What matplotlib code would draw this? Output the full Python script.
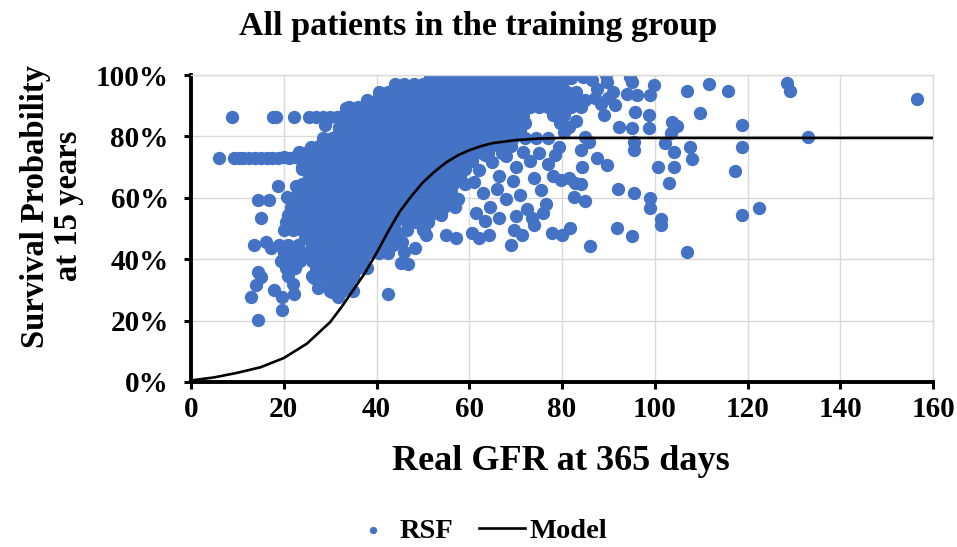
import matplotlib
matplotlib.use("Agg")
import matplotlib.pyplot as plt
from matplotlib.ticker import PercentFormatter, MultipleLocator

plt.rcParams['font.family'] = ['Liberation Serif', 'DejaVu Serif']
plt.rcParams['font.weight'] = 'bold'

# Model curve (GFR, survival %)
model_gfr = [0, 5, 10, 15, 20, 25, 30, 32.5, 35, 37.5, 40, 42.5, 45, 47.5, 50,
             52.5, 55, 57.5, 60, 62.5, 65, 70, 75, 80, 100, 120, 140, 160]
model_surv = [0.5, 1.5, 3, 4.8, 7.8, 12.5, 19.5, 24.5, 30, 35.5, 42, 49, 55.5, 60.5, 65,
              68.5, 71.5, 73.8, 75.5, 76.8, 77.8, 78.8, 79.3, 79.5, 79.5, 79.5, 79.5, 79.5]

# RSF points, dense core: one survival level per row, GFR values along it
core_surv = [99.5, 97, 94.5, 92, 89.5, 87, 84.5, 82, 79.5, 77, 74.5, 72, 69.5, 67,
             64.5, 62, 59.5, 57, 54.5, 52, 49.5, 47, 44.5, 42, 39.5, 37, 34.5, 32, 29.5]
core_gfr_rows = [
    [51.5, 53.5, 55.5, 57.5, 59.5, 62, 64, 66, 68.5, 70.5, 72.5, 75, 77.5],
    [44, 46, 48, 50, 52.5, 54.5, 56.5, 58.5, 61, 63, 65, 67, 69.5, 71.5, 73.5, 76, 78, 80],
    [40.5, 42.5, 44.5, 47, 49, 51, 53, 55.5, 57.5, 59.5, 62, 64, 66, 68, 70.5, 72.5, 74.5,
     77, 79, 81, 83],
    [38, 40, 42, 44, 46, 48, 50.5, 52.5, 54.5, 56.5, 59, 61, 63, 65, 67.5, 69.5, 71.5, 74,
     76, 78, 80.5, 82.5, 85],
    [34, 36, 38.5, 40.5, 42.5, 45, 47, 49, 51, 53.5, 55.5, 57.5, 60, 62, 64, 66.5, 68.5,
     70.5, 73, 75, 77, 79.5, 82, 84],
    [33, 35, 37, 39, 41.5, 43.5, 45.5, 48, 50, 52, 54.5, 56.5, 58.5, 61, 63, 65, 67.5,
     69.5, 71.5, 78, 80.5],
    [33.5, 35.5, 38, 40, 42, 44, 46.5, 48.5, 50.5, 53, 55, 57, 59.5, 61.5, 63.5, 66, 68,
     70, 72, 79.5],
    [32, 34, 36.5, 38.5, 40.5, 43, 45, 47, 49.5, 51.5, 53.5, 56, 58, 60, 62.5, 64.5, 66.5,
     69, 71],
    [28.5, 30.5, 32.5, 35, 37, 39, 41.5, 43.5, 45.5, 48, 50, 52, 54.5, 56.5, 58.5, 61, 63,
     65, 67.5, 69.5, 72, 74.5, 77],
    [27.5, 29.5, 31.5, 34, 36, 38, 40.5, 42.5, 44.5, 47, 49, 51, 53.5, 55.5, 57.5, 60, 62,
     64.5, 66.5, 69],
    [24.5, 26.5, 28.5, 31, 33, 35, 37.5, 39.5, 41.5, 44, 46, 48, 50.5, 52.5, 54.5, 57, 59,
     61.5, 64, 67],
    [25, 27, 29.5, 31.5, 33.5, 36, 38, 40, 42.5, 44.5, 46.5, 49, 51, 53, 55.5, 57.5, 60],
    [24, 26, 28, 30.5, 32.5, 34.5, 37, 39, 41, 43.5, 45.5, 47.5, 50, 52, 54, 56.5, 59],
    [25.5, 27.5, 29.5, 32, 34, 36, 38.5, 40.5, 42.5, 45, 47, 49, 51.5, 53.5, 55.5, 58],
    [24, 26, 28.5, 30.5, 32.5, 35, 37, 39, 41.5, 43.5, 45.5, 48, 50, 52, 54.5, 56.5, 59],
    [23, 25.5, 27.5, 29.5, 32, 34, 36, 38.5, 40.5, 42.5, 45, 47, 49, 51.5, 53.5, 56],
    [22.5, 24.5, 26.5, 29, 31, 33, 35.5, 37.5, 39.5, 42, 44, 46, 48.5, 50.5, 53, 55, 57.5],
    [21.5, 23.5, 26, 28, 30, 32.5, 34.5, 36.5, 39, 41, 43, 45.5, 47.5, 49.5, 52, 54.5, 57],
    [21, 23, 25, 27.5, 29.5, 31.5, 34, 36, 38, 40.5, 42.5, 44.5, 47, 49, 51.5, 54],
    [20.5, 22.5, 24.5, 27, 29, 31, 33.5, 35.5, 37.5, 40, 42, 44, 46.5, 48.5, 51],
    [20, 22, 24, 26.5, 28.5, 30.5, 33, 35, 37, 39.5, 41.5, 44, 46.5, 50],
    [24.5, 27, 29, 31, 33.5, 35.5, 37.5, 40, 42, 44.5],
    [19, 21, 23, 26, 28, 30, 32.5, 34.5, 36.5, 39, 41.5, 43.5],
    [20, 22, 24.5, 27, 29, 31, 33.5, 35.5, 38, 40.5, 42.5],
    [19.5, 21.5, 23.5, 26, 28, 30.5, 32.5, 34.5, 37],
    [20.5, 22.5, 27, 29.5, 31.5, 33.5, 36, 38],
    [21, 26, 28.5, 30.5, 32.5, 35],
    [22, 29.5, 31.5, 34],
    [30, 32.5, 35],
]

# RSF points, scattered ones around the edges
edge_gfr = [8.8, 17.7, 18.4, 22.3, 25.5, 27, 28.5, 30, 31.5, 29, 32, 33.4, 38.3, 25.8, 28.4,
            23.3, 24,
            6.1, 9.3, 10.3, 11.3, 12.5, 13.8, 15, 16.3, 17.5, 18.8, 20, 21.2, 22.5,
            18.7, 22.6, 14.4, 16.9, 15.1, 20.8,
            13.6, 16.1, 17.2, 14.4, 15.1, 14, 12.9, 14.4, 17.9, 19.7, 19.7, 22.2, 26.5, 27.3,
            30.5, 31.6,
            42.4, 45.2, 46.7, 45.9, 48.4, 45.6, 41.6, 42, 50.2, 50.6, 54.9, 57.1, 60.7, 62.1,
            64.2, 68.9, 69.6, 71.4, 73.9, 77.9,
            80, 81.8, 86.1, 91.9, 95, 101.4, 107,
            60.5, 62, 63.5, 65, 66.5, 68, 70, 71.5, 73, 75, 77, 61, 63, 64.5, 66, 68, 69.5, 71,
            72.5, 74, 75.5, 76.5, 78, 78.5, 61.5, 63.5, 66.5, 70, 73.5, 76,
            79.3, 84, 85.8, 85, 84.3, 87.6, 89.7, 79.7, 81.5, 82.9, 84, 85, 82.5,
            80, 81.5, 83, 80.5,
            107, 111.6, 115.9, 109.8, 118.8, 107.7, 108, 104.1, 103.7, 104.8, 103.4, 102.3,
            100.8, 104.1, 103, 117.4, 118.8, 118.8, 101.4, 99, 99, 95.6, 92, 122.4, 128.5,
            129.2, 156.5, 133.1,
            95.6, 95.6, 95.1, 95.8, 92.2, 98.7, 98.7, 94, 96.2, 99, 99.8, 94.7, 95.1, 89.4,
            89.7, 86.5, 87.6, 87.2, 90, 91.5, 89, 80, 82, 84.5, 88.5, 91]
edge_surv = [86.4, 86.4, 86.4, 86.4, 86.4, 86.4, 86.4, 86.4, 86.4, 83.7, 83, 89.2, 91, 76.7,
             77.2, 75, 70.1,
             72.9, 73, 73, 72.9, 73, 72.9, 73, 73, 72.9, 73, 73.2, 73, 73.3,
             64, 64, 59.3, 59.3, 53.3, 60.4,
             44.6, 45.7, 43.5, 35.9, 34.3, 31.6, 27.8, 20.2, 30, 27.8, 23.5, 28.6, 34, 30.6,
             29.4, 27.8,
             28.6, 38.7, 38.3, 42.4, 43.5, 45.7, 43, 45.2, 49.5, 47.9, 47.9, 46.8, 48.4, 46.8,
             47.9, 44.6, 49.5, 47.9, 51.1, 48.4,
             47.9, 50.3, 44.4, 50.3, 47.7, 51, 42.2,
             72, 69, 74, 71.5, 67, 73.5, 70, 75, 72, 74.5, 71, 65, 61.5, 57, 63, 59.5, 65.5, 61,
             56.5, 66.5, 62.5, 58, 67, 74, 55, 52.5, 53.5, 54, 53.5, 55,
             76.7, 75.6, 78.3, 79.9, 70.1, 72.9, 70.7, 65.8, 66.3, 64.7, 64.4, 59, 60.4,
             86, 83, 85, 81.5,
             94.8, 97, 94.8, 87.5, 83.7, 76.7, 72.6, 74.8, 84.8, 83.5, 81, 77.7,
             70.1, 70.1, 64.7, 68.7, 76.7, 54.4, 53.1, 59.8, 56.6, 61.7, 62.8, 56.6, 97.3,
             94.8, 92.1, 79.9,
             75.6, 78.3, 82.6, 88, 83.2, 87, 82.6, 93.7, 93.5, 93.5, 96.7, 99.4, 97.8, 100,
             97.8, 98.4, 95.6, 92.4, 92.4, 90.2, 87, 100, 99, 99.5, 90.5, 94.5]

rsf_gfr = []
rsf_surv = []
for level, row in zip(core_surv, core_gfr_rows):
    rsf_gfr += row
    rsf_surv += [level] * len(row)
rsf_gfr += edge_gfr
rsf_surv += edge_surv

fig = plt.figure(figsize=(9.57, 5.47), dpi=100)
ax = fig.add_axes([191 / 957, 1 - 382 / 547, 742 / 957, 307 / 547])

ax.scatter(rsf_gfr, rsf_surv, s=92, color='#4472C4', linewidths=0, zorder=2, label='RSF')
ax.plot(model_gfr, model_surv, color='black', lw=1.9, zorder=3, label='Model')

ax.set_xlim(0, 160)
ax.set_ylim(0, 100)
ax.xaxis.set_major_locator(MultipleLocator(20))
ax.yaxis.set_major_locator(MultipleLocator(20))
ax.yaxis.set_major_formatter(PercentFormatter(xmax=100, decimals=0))
ax.grid(True, color='#D9D9D9', lw=1.0, zorder=0)
ax.set_axisbelow(True)

for side in ['top', 'right']:
    ax.spines[side].set_color('#D9D9D9')
    ax.spines[side].set_linewidth(1.0)
for side in ['left', 'bottom']:
    ax.spines[side].set_color('black')
    ax.spines[side].set_linewidth(2.8)
ax.tick_params(direction='out', length=5, width=2.2, labelsize=21)
ax.tick_params(axis='x', pad=5)
ax.tick_params(axis='y', pad=11)

fig.text(0.5, 1 - 27 / 547, 'All patients in the training group', ha='center',
         va='center', fontsize=24.5, fontweight='bold')
fig.text(561 / 957, 1 - 461 / 547, 'Real GFR at 365 days', ha='center', va='center',
         fontsize=26, fontweight='bold')
fig.text(52 / 957, 1 - 206 / 547, 'Survival Probability\nat 15 years', ha='center',
         va='center', rotation=90, fontsize=23.5, fontweight='bold', linespacing=1.1)

fig.legend(loc='center', bbox_to_anchor=(0.5, 0.03), ncol=2, frameon=False,
           fontsize=20.5, markerscale=0.55, handlelength=1.6, columnspacing=0.9,
           handletextpad=0.15)

fig.savefig('out.png', dpi=100)
